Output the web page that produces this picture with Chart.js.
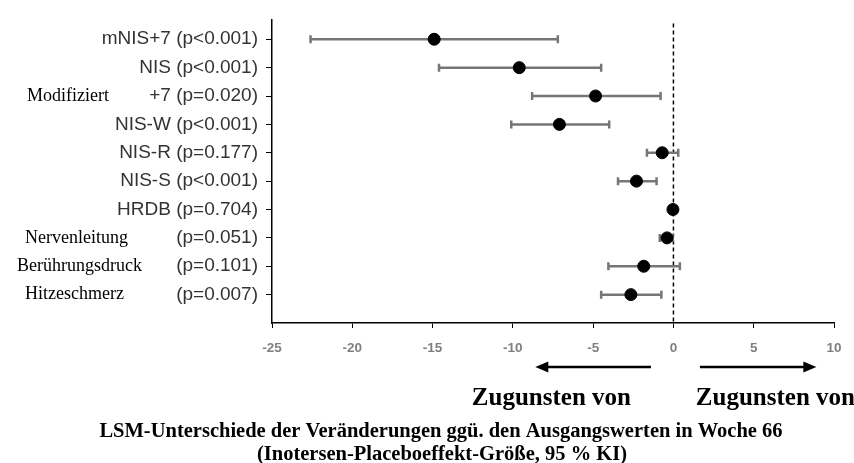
<!DOCTYPE html>
<html>
<head>
<meta charset="utf-8">
<script src="https://cdn.jsdelivr.net/npm/chart.js@4"></script>
<style>
  body { margin: 0; background: #fff; }
</style>
</head>
<body>
<canvas id="forest" width="854" height="463"></canvas>
<script>
// Kategorien (von oben nach unten)
const etiketten = ["mNIS+7 (p<0.001)", "NIS (p<0.001)", "+7 (p=0.020)", "NIS-W (p<0.001)", "NIS-R (p=0.177)",
  "NIS-S (p<0.001)", "HRDB (p=0.704)", "(p=0.051)", "(p=0.101)", "(p=0.007)"];
const seitenText = ["", "", "Modifiziert", "", "", "", "", "Nervenleitung", "Berührungsdruck", "Hitzeschmerz"];

// LSM-Unterschiede und 95 % KI
const schaetzer = [-14.9, -9.6, -4.85, -7.1, -0.7, -2.3, -0.03, -0.4, -1.85, -2.65];
const untere = [-22.6, -14.6, -8.8, -10.1, -1.65, -3.45, -0.12, -0.85, -4.05, -4.5];
const obere = [-7.2, -4.5, -0.8, -4.0, 0.3, -1.05, 0.06, -0.05, 0.4, -0.75];

const achsenTicks = [-25, -20, -15, -10, -5, 0, 5, 10];

const n = etiketten.length;
const punkte = schaetzer.map((v, i) => ({ x: v, y: n - i }));

// Fehlerbalken, Nulllinie und Beschriftungen
const extras = {
  id: 'extras',
  beforeDatasetsDraw(chart) {
    const { ctx, chartArea, scales: { x, y } } = chart;
    ctx.save();
    // gestrichelte Linie bei 0
    ctx.strokeStyle = '#000';
    ctx.lineWidth = 1.5;
    ctx.setLineDash([4, 3]);
    ctx.beginPath();
    ctx.moveTo(x.getPixelForValue(0), chartArea.top + 4);
    ctx.lineTo(x.getPixelForValue(0), chartArea.bottom);
    ctx.stroke();
    ctx.setLineDash([]);
    // KI-Balken
    ctx.strokeStyle = '#767676';
    ctx.lineWidth = 2.5;
    for (let i = 0; i < n; i++) {
      const py = y.getPixelForValue(n - i);
      const x1 = x.getPixelForValue(untere[i]);
      const x2 = x.getPixelForValue(obere[i]);
      ctx.beginPath();
      ctx.moveTo(x1, py); ctx.lineTo(x2, py);
      ctx.moveTo(x1, py - 4); ctx.lineTo(x1, py + 4);
      ctx.moveTo(x2, py - 4); ctx.lineTo(x2, py + 4);
      ctx.stroke();
    }
    ctx.restore();
  },
  afterDraw(chart) {
    const { ctx, scales: { x, y } } = chart;
    ctx.save();
    ctx.fillStyle = '#000';
    // Seitenbeschriftungen links
    const links = [0, 0, 27, 0, 0, 0, 0, 25, 17, 25];
    ctx.font = "18px 'Liberation Serif'";
    ctx.textAlign = 'left';
    ctx.textBaseline = 'middle';
    seitenText.forEach((t, i) => {
      if (t) ctx.fillText(t, links[i], y.getPixelForValue(n - i));
    });

    // Pfeile
    const pfeil = (von, bis, py) => {
      const a = x.getPixelForValue(von), b = x.getPixelForValue(bis);
      const dir = Math.sign(b - a);
      ctx.strokeStyle = '#000';
      ctx.lineWidth = 2.5;
      ctx.beginPath();
      ctx.moveTo(a, py); ctx.lineTo(b - dir * 10, py);
      ctx.stroke();
      ctx.beginPath();
      ctx.moveTo(b, py);
      ctx.lineTo(b - dir * 13, py - 5.5);
      ctx.lineTo(b - dir * 13, py + 5.5);
      ctx.closePath();
      ctx.fill();
    };
    pfeil(-1.4, -8.6, 367);
    pfeil(1.65, 8.9, 367);

    ctx.font = "bold 25px 'Liberation Serif'";
    ctx.textAlign = 'center';
    ctx.fillText('Zugunsten von', x.getPixelForValue(-7.6), 399);
    ctx.fillText('Zugunsten von', x.getPixelForValue(6.35), 399);

    ctx.font = "bold 20.5px 'Liberation Serif'";
    ctx.fillText('LSM-Unterschiede der Veränderungen ggü. den Ausgangswerten in Woche 66', 441, 432);
    ctx.fillText('(Inotersen-Placeboeffekt-Größe, 95 % KI)', 442, 455);
    ctx.restore();
  }
};

new Chart(document.getElementById('forest'), {
  type: 'scatter',
  data: {
    datasets: [{
      data: punkte,
      backgroundColor: '#000',
      borderColor: '#000',
      pointRadius: 6,
      pointHoverRadius: 6
    }]
  },
  options: {
    responsive: false,
    animation: false,
    events: [],
    layout: { padding: { top: 13, right: 20, left: 0, bottom: 0 } },
    plugins: { legend: { display: false }, tooltip: { enabled: false } },
    scales: {
      x: {
        type: 'linear',
        min: -25,
        max: 10,
        afterBuildTicks: (s) => { s.ticks = achsenTicks.map(v => ({ value: v })); },
        afterFit: (s) => { s.height = 140; },
        border: { color: '#000', width: 1.5 },
        grid: { drawOnChartArea: false, tickLength: 5, color: '#000' },
        ticks: {
          padding: 12,
          color: '#7f7f7f',
          font: { family: "'Liberation Sans'", size: 13.5, weight: 'bold' }
        }
      },
      y: {
        type: 'linear',
        min: 0,
        max: 10.7,
        afterBuildTicks: (s) => { s.ticks = etiketten.map((_, i) => ({ value: n - i })); },
        afterFit: (s) => { s.width = 272; },
        border: { color: '#000', width: 1.5 },
        grid: { drawOnChartArea: false, tickLength: 6, color: '#000' },
        ticks: {
          autoSkip: false,
          padding: 8,
          color: '#333',
          font: { family: "'Liberation Sans'", size: 19 },
          callback: (v) => etiketten[n - v]
        }
      }
    }
  },
  plugins: [extras]
});
</script>
</body>
</html>
